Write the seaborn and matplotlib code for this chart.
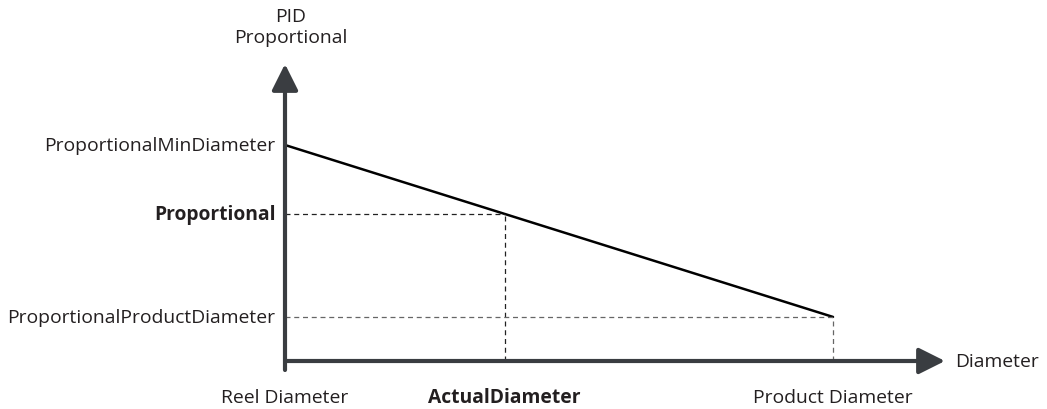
import matplotlib
matplotlib.use("Agg")
import matplotlib.pyplot as plt
import seaborn as sns
import pandas as pd

# diameter positions (reel = 0, product = 1) and proportional gain values
diameter_pts = [0.0, 1.0]
proportional_pts = [1.0, 0.204]
actual_diameter = 0.401
actual_proportional = 0.68

x_labels = ["Reel Diameter", "ActualDiameter", "Product Diameter"]
y_labels = ["ProportionalMinDiameter", "Proportional", "ProportionalProductDiameter"]

sns.set_style("white")
plt.rcParams["font.family"] = ["Open Sans", "DejaVu Sans"]

W, H = 1047, 410
fig = plt.figure(figsize=(W / 100, H / 100), dpi=100)
# axes span pixels x 285..945, y 65..362
ax = fig.add_axes([285 / W, (H - 362) / H, 660 / W, 297 / H])
xmax, ymax = 660 / 548, 297 / 216
ax.set_xlim(0, xmax)
ax.set_ylim(0, ymax)
ax.axis("off")

df = pd.DataFrame({"diameter": diameter_pts, "proportional": proportional_pts})
sns.lineplot(data=df, x="diameter", y="proportional", color="black", lw=1.8, ax=ax)

# helper lines
ax.plot([0, actual_diameter], [actual_proportional] * 2, ls=(0, (4, 3)), color="#222222", lw=0.9)
ax.plot([actual_diameter] * 2, [0, actual_proportional], ls=(0, (4, 3)), color="#222222", lw=0.9)
ax.plot([0, diameter_pts[1]], [proportional_pts[1]] * 2, ls=(0, (4, 3)), color="#666666", lw=0.9)
ax.plot([diameter_pts[1]] * 2, [0, proportional_pts[1]], ls=(0, (4, 3)), color="#666666", lw=0.9)

# axis arrows
axis_col = "#3a3d41"
arrow = dict(arrowstyle="-|>,head_length=1.1,head_width=0.55", mutation_scale=14.5,
             lw=3.0, color=axis_col, shrinkA=0, shrinkB=0)
ax.annotate("", xy=(xmax, 0), xytext=(0, 0), arrowprops=arrow, annotation_clip=False)
ax.annotate("", xy=(0, ymax), xytext=(0, -9 / 216), arrowprops=arrow, annotation_clip=False)

fs = 13.9
txt_col = "#231f20"
# y labels
for yv, lab in zip([proportional_pts[0], actual_proportional, proportional_pts[1]], y_labels):
    ax.annotate(lab, xy=(0, yv), xytext=(-7, 0), textcoords="offset points",
                ha="right", va="center", fontsize=fs, color=txt_col,
                fontweight="bold" if lab == "Proportional" else "normal",
                annotation_clip=False)
# x labels
for xv, lab in zip([diameter_pts[0], actual_diameter, diameter_pts[1]], x_labels):
    ax.annotate(lab, xy=(xv, 0), xytext=(0, -26), textcoords="offset points",
                ha="center", va="center", fontsize=fs, color=txt_col,
                fontweight="bold" if lab == "ActualDiameter" else "normal",
                annotation_clip=False)

ax.annotate("Diameter", xy=(xmax, 0), xytext=(7, 0), textcoords="offset points",
            ha="left", va="center", fontsize=fs, color=txt_col, annotation_clip=False)
ax.annotate("PID\nProportional", xy=(0, ymax), xytext=(4, 27), textcoords="offset points",
            ha="center", va="center", fontsize=fs, color=txt_col, linespacing=1.25,
            annotation_clip=False)

fig.savefig("out.png", dpi=100)
